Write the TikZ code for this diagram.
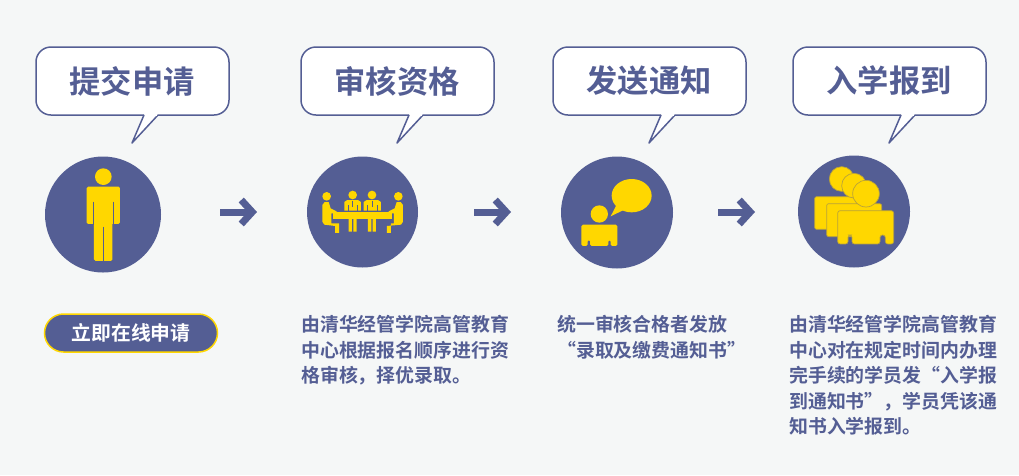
\documentclass[tikz,border=0pt]{standalone}
\usepackage{fontspec}
\usetikzlibrary{arrows.meta}
\setmainfont{Noto Sans CJK SC}[BoldFont={Noto Sans CJK SC Bold}]
\definecolor{ink}{HTML}{545E94}
\definecolor{gold}{HTML}{FFD700}
\definecolor{paper}{HTML}{F5F7F7}
\definecolor{goldedge}{HTML}{B9A23A}
\tikzset{
  bubble/.style={draw=ink,fill=white,line width=1.5pt,line join=round},
  titletext/.style={text=ink,font=\fontsize{31.3}{33}\selectfont\bfseries,inner sep=0pt},
  disc/.style={circle,fill=ink,inner sep=0pt},
  flow/.style={draw=ink,line width=7pt,-{Straight Barb[length=11pt,width=24pt,line width=7pt]}},
  gfill/.style={fill=gold},
  gcut/.style={draw=ink,line width=0.8pt},
  bodytext/.style={text=ink,font=\fontsize{18.9}{25.6}\selectfont\bfseries,align=left,inner sep=0pt,anchor=north west},
  applybtn/.style={draw=gold,fill=ink,line width=1.5pt,rounded corners=19pt,minimum width=173pt,minimum height=38pt,inner sep=0pt,text=white,font=\fontsize{19.8}{22}\selectfont\bfseries},
  zoomed/.style={x=0.3333pt,y=-0.3333pt},
}
\newcommand{\speech}[3]{% x-offset, name, text
  \begin{scope}[shift={(#1,0)}]
    \draw[bubble,rounded corners=15pt] (144,115) -- (36,115) -- (36,47) -- (229,47) -- (229,115) -- (158,115);
    \draw[bubble,fill=white] (144,115) -- (132,143) -- (158,115);
    \draw[white,line width=2pt] (145,115) -- (157,115);
    \node[titletext] (#2) at (132,81) {#3};
  \end{scope}}
\begin{document}
\begin{tikzpicture}[x=1pt,y=-1pt]
\fill[paper] (0,0) rectangle (1019,475);
\useasboundingbox (0,0) rectangle (1019,475);

\speech{0}{t1}{提交申请}
\speech{265}{t2}{审核资格}
\speech{517}{t3}{发送通知}
\speech{757}{t4}{入学报到}

\node[disc,minimum size=116pt] (c1) at (103,214.5) {};
\node[disc,minimum size=111pt] (c2) at (362.5,212) {};
\node[disc,minimum size=112pt] (c3) at (617,212.5) {};
\node[disc,minimum size=112pt] (c4) at (854,211.5) {};

% person
\begin{scope}[shift={(20,30)},zoomed]
  \fill[gfill] (250,440) circle[radius=25];
  \fill[gfill,rounded corners=1.5pt] (200,582) -- (200,470) -- (300,470) -- (300,582) -- cycle;
  \fill[gfill,rounded corners=1.5pt] (222,600) -- (222,693) -- (277,693) -- (277,560) -- (222,560) -- cycle;
  \draw[gcut] (220.5,515) -- (220.5,584) (279.5,515) -- (279.5,584) (250,590) -- (250,695);
\end{scope}

% meeting
\begin{scope}[shift={(290,140)},zoomed]
  \fill[gfill] (110,169) circle[radius=13] (188,165) circle[radius=13] (246,165) circle[radius=13] (325,169) circle[radius=13];
  \fill[gfill] (97,195) -- (104,186) -- (116,186) -- (122,205) -- (140,214) -- (140,220) -- (124,220) -- (124,250) -- (147,250) -- (147,279) -- (135,279) -- (135,258) -- (103,254) -- (97,245) -- cycle;
  \fill[gfill] (339,195) -- (332,186) -- (320,186) -- (314,205) -- (296,214) -- (296,220) -- (312,220) -- (312,250) -- (303,250) -- (303,279) -- (291,279) -- (291,258) -- (333,254) -- (339,245) -- cycle;
  \fill[gfill] (163,212) -- (163,186) -- (172,180) -- (204,180) -- (213,186) -- (213,212) -- cycle;
  \fill[gfill] (221,212) -- (221,186) -- (230,180) -- (264,180) -- (273,186) -- (273,212) -- cycle;
  \fill[gfill] (128,216) rectangle (305,236);
  \fill[gfill] (176,236) rectangle (186,275) (190,236) rectangle (200,275) (234,236) rectangle (244,275) (248,236) rectangle (258,275);
  \draw[gcut] (188,182) -- (188,200) (246,182) -- (246,200) (174,195) -- (174,212) (202,195) -- (202,212) (232,195) -- (232,212) (262,195) -- (262,212);
\end{scope}

% speaking person
\begin{scope}[shift={(540,140)},zoomed]
  \fill[gfill] (275,167) ellipse[x radius=60,y radius=50];
  \fill[gfill] (232,190) -- (212,229) -- (255,208) -- cycle;
  \fill[gfill] (178,222) circle[radius=26];
  \fill[gfill,rounded corners=1.5pt] (124,318) -- (124,254) -- (232,254) -- (232,318) -- (212,318) -- (212,300) -- (205,300) -- (205,318) -- (150,318) -- (150,300) -- (143,300) -- (143,318) -- cycle;
\end{scope}

% group
\begin{scope}[shift={(780,140)},zoomed]
  \tikzset{gp/.style={fill=gold,draw=goldedge,line width=0.7pt}}
  \draw[gp] (185,117) circle[radius=37];
  \draw[gp,rounded corners=2pt] (104,268) -- (104,170) -- (230,170) -- (230,268) -- cycle;
  \draw[gp] (222,137) circle[radius=37];
  \draw[gp,rounded corners=2pt] (140,290) -- (140,191) -- (305,191) -- (305,290) -- cycle;
  \draw[gp,rounded corners=2.5pt] (173,312) -- (173,212) -- (341,212) -- (341,312) -- (316,312) -- (316,285) -- (300,285) -- (300,312) -- (216,312) -- (216,285) -- (204,285) -- (204,312) -- cycle;
  \draw[gp] (258,161) circle[radius=40];
\end{scope}

% arrows
\coordinate (a1s) at (220,212);
\coordinate (a1e) at (257,212);
\coordinate (a2s) at (474,212);
\coordinate (a2e) at (511,212);
\coordinate (a3s) at (718,212);
\coordinate (a3e) at (755,212);
\draw[flow] (a1s) -- (a1e);
\draw[flow] (a2s) -- (a2e);
\draw[flow] (a3s) -- (a3e);

\node[applybtn] (apply) at (131,333) {立即在线申请};

\node[bodytext] (b2) at (301,315) {由清华经管学院高管教育\\中心根据报名顺序进行资\\格审核，择优录取。};
\node[bodytext] (b3) at (557,315) {统一审核合格者发放\\“录取及缴费通知书”};
\node[bodytext] (b4) at (789,315) {由清华经管学院高管教育\\中心对在规定时间内办理\\完手续的学员发“入学报\\到通知书”，学员凭该通\\知书入学报到。};
\end{tikzpicture}
\end{document}
